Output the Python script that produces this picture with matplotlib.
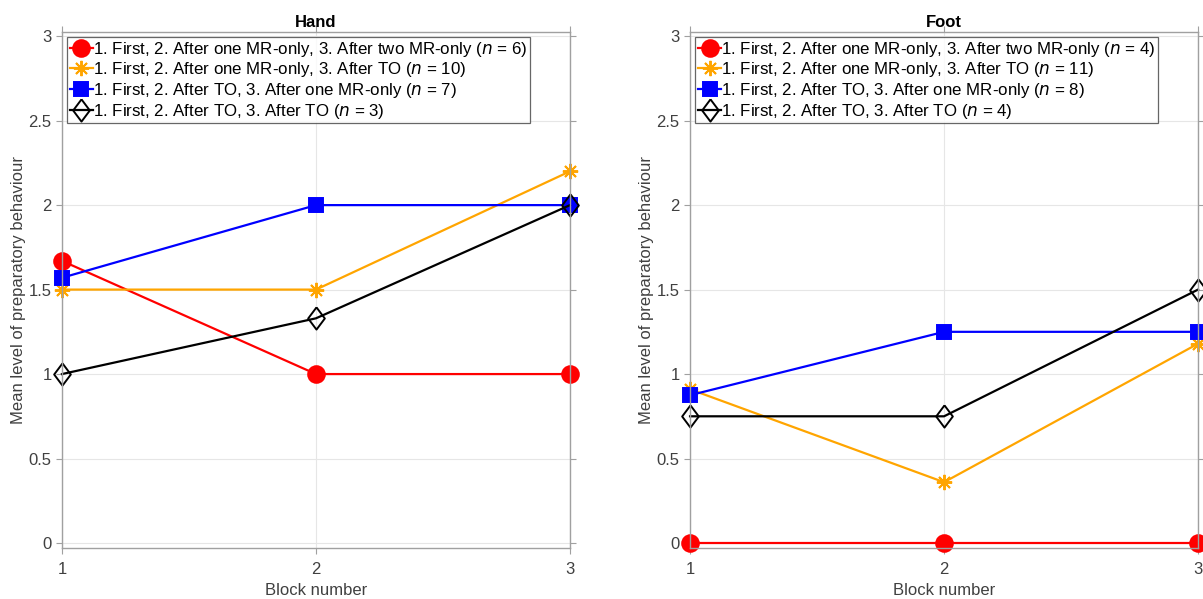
import numpy as np
import matplotlib
matplotlib.use("Agg")
import matplotlib.pyplot as plt

plt.rcParams['font.family'] = ['Liberation Sans', 'DejaVu Sans']

blocks = [1, 2, 3]
labels_hand = [
    "1. First, 2. After one MR-only, 3. After two MR-only ($n$ = 6)",
    "1. First, 2. After one MR-only, 3. After TO ($n$ = 10)",
    "1. First, 2. After TO, 3. After one MR-only ($n$ = 7)",
    "1. First, 2. After TO, 3. After TO ($n$ = 3)",
]
labels_foot = [
    "1. First, 2. After one MR-only, 3. After two MR-only ($n$ = 4)",
    "1. First, 2. After one MR-only, 3. After TO ($n$ = 11)",
    "1. First, 2. After TO, 3. After one MR-only ($n$ = 8)",
    "1. First, 2. After TO, 3. After TO ($n$ = 4)",
]
hand_red = [1.67, 1.0, 1.0]
hand_orange = [1.5, 1.5, 2.2]
hand_blue = [1.57, 2.0, 2.0]
hand_black = [1.0, 1.33, 2.0]
foot_red = [0.0, 0.0, 0.0]
foot_orange = [0.91, 0.36, 1.18]
foot_blue = [0.875, 1.25, 1.25]
foot_black = [0.75, 0.75, 1.5]

diamond = [(0, 1), (0.75, 0), (0, -1), (-0.75, 0), (0, 1)]
styles = [
    dict(color='red', marker='o', ms=12, mfc='red', mec='red'),
    dict(color='#FFA500', marker=(8, 2, 0), ms=11, mfc='none', mec='#FFA500'),
    dict(color='blue', marker='s', ms=10, mfc='blue', mec='blue'),
    dict(color='black', marker=diamond, ms=16, mfc='none', mec='black'),
]

fig = plt.figure(figsize=(12.03, 5.99), dpi=100)
ax1 = fig.add_axes([0.0515, 0.085, 0.4223, 0.8614])
ax2 = fig.add_axes([0.5736, 0.085, 0.4223, 0.8614])

def draw(ax, series, labels, title):
    for vals, lab, st in zip(series, labels, styles):
        ax.plot(blocks, vals, label=lab, lw=1.6, mew=1.4, clip_on=False, **st)
    ax.set_xlim(1, 3)
    ax.set_ylim(-0.03, 3.024)
    ax.set_xticks([1, 2, 3])
    ax.set_yticks([0, 0.5, 1, 1.5, 2, 2.5, 3])
    ax.set_yticklabels(['0', '0.5', '1', '1.5', '2', '2.5', '3'])
    ax.grid(True, color='#e6e6e6', lw=0.8)
    ax.set_axisbelow(True)
    for s in ax.spines.values():
        s.set_color('#a0a0a0')
        s.set_linewidth(1.0)
    ax.tick_params(direction='out', top=True, right=True, colors='#a0a0a0',
                   labelcolor='#404040', labelsize=12, length=4, width=0.8)
    ax.tick_params(axis='x', pad=6)
    ax.set_xlabel('Block number', fontsize=12, color='#404040', labelpad=4)
    ax.set_ylabel('Mean level of preparatory behaviour', fontsize=12, color='#404040', labelpad=2)
    ax.set_title(title, fontsize=12, fontweight='bold', pad=4)
    leg = ax.legend(loc='upper left', fontsize=12.2, frameon=True, fancybox=False,
                    borderpad=0.15, labelspacing=0.1, handlelength=1.4, handletextpad=0.0,
                    borderaxespad=0.3, edgecolor='#404040')
    leg.get_frame().set_linewidth(0.9)

draw(ax1, [hand_red, hand_orange, hand_blue, hand_black], labels_hand, 'Hand')
draw(ax2, [foot_red, foot_orange, foot_blue, foot_black], labels_foot, 'Foot')

fig.savefig('out.png', dpi=100)
